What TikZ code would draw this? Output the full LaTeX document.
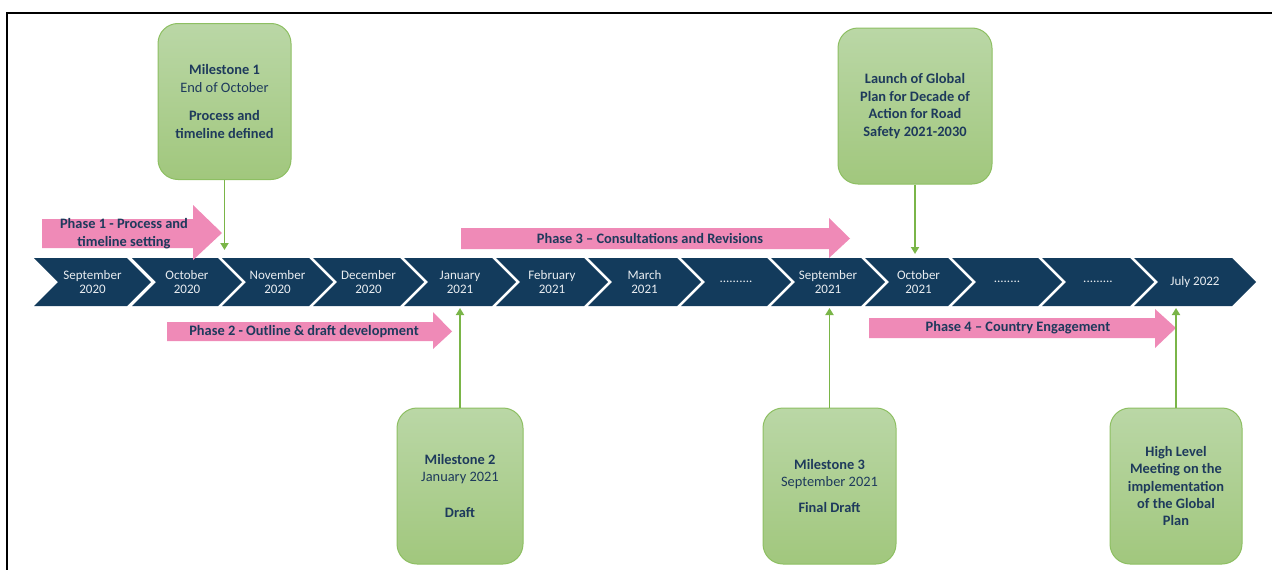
\documentclass[tikz,border=0pt]{standalone}
\usepackage{fontspec}
\setmainfont{Carlito}
\usetikzlibrary{arrows.meta}
\definecolor{band}{HTML}{133B5C}
\definecolor{monthtext}{HTML}{E9EDF1}
\definecolor{phasepink}{HTML}{EF8AB7}
\definecolor{inktext}{HTML}{1E3A5C}
\definecolor{boxtop}{HTML}{BAD7A6}
\definecolor{boxbot}{HTML}{A1C77D}
\definecolor{boxedge}{HTML}{8DBF62}
\definecolor{stemgreen}{HTML}{7AB548}
\tikzset{
    month/.style={text=monthtext, align=center, inner sep=0pt,
        font=\fontsize{13}{14}\selectfont},
    phase/.style={text=inktext, align=center, inner sep=0pt,
        font=\fontsize{14.4}{18}\selectfont\bfseries},
    milestone/.style={draw=boxedge, line width=1pt, rounded corners=20pt,
        top color=boxtop, bottom color=boxbot, text=inktext, align=center,
        inner sep=0pt, minimum height=156pt,
        font=\fontsize{14.4}{17.4}\selectfont},
    stem/.style={stemgreen, line width=1.8pt, -{Triangle[length=7pt,width=8pt]}},
}
\begin{document}
\begin{tikzpicture}[x=1pt,y=-1pt]
        \useasboundingbox (0,0) rectangle (1272,570);
        \draw[line width=1.5pt] (7,570) -- (7,13) -- (1272,13);
        % months
        \coordinate (bandtop) at (0,258);
        \coordinate (bandbot) at (0,306);
        \foreach \xl/\xr/\lbl [count=\i from 0] in {
            34/127/{September\\2020}, 132/218/{October\\2020},
            222/309/{November\\2020}, 313/400/{December\\2020},
            404/492/{January\\2021}, 496/584/{February\\2021},
            588/677/{March\\2021}, 681/767/{..........},
            771/861/{September\\2021}, 865/948/{October\\2021},
            952/1038/{........}, 1042/1130/{.........},
            1134/1232/{July 2022}} {
                \fill[band] (\xl,258) -- (\xr,258) -- (\xr+24,282) -- (\xr,306)
                    -- (\xl,306) -- (\xl+24,282) -- cycle;
                \node[month] (m\i) at ({(\xl+\xr+24)/2},282) {\lbl};
            }
        % phases
        \fill[phasepink] (42,219) -- (193,219) -- (193,205) -- (222,233)
            -- (193,260) -- (193,248) -- (42,248) -- cycle;
        \node[phase] (phase1) at (124,234) {Phase 1 - Process and\\timeline setting};
        \fill[phasepink] (167,322) -- (433,322) -- (433,312) -- (452,331.5)
            -- (433,349) -- (433,341) -- (167,341) -- cycle;
        \node[phase] (phase2) at (304,331.5) {Phase 2 - Outline \& draft development};
        \fill[phasepink] (461,228) -- (829,228) -- (829,218) -- (850,238.5)
            -- (829,258) -- (829,249) -- (461,249) -- cycle;
        \node[phase] (phase3) at (650,238.5) {Phase 3 – Consultations and Revisions};
        \fill[phasepink] (869,318) -- (1155,318) -- (1155,309) -- (1176,328)
            -- (1155,348) -- (1155,338) -- (869,338) -- cycle;
        \node[phase] (phase4) at (1018,328) {Phase 4 – Country Engagement};
        % milestones
        \node[milestone, minimum width=133pt] (ms1) at (224.5,101.5)
            {\textbf{Milestone 1}\\End of October\\[11pt]\textbf{Process and}\\\textbf{timeline defined}};
        \node[milestone, minimum width=154pt] (launch) at (915,106)
            {\textbf{Launch of Global}\\\textbf{Plan for Decade of}\\\textbf{Action for Road}\\\textbf{Safety 2021-2030}};
        \node[milestone, minimum width=126pt] (ms2) at (460,486)
            {\textbf{Milestone 2}\\January 2021\\[19pt]\textbf{Draft}};
        \node[milestone, minimum width=133pt] (ms3) at (829.5,486)
            {\textbf{Milestone 3}\\September 2021\\[9pt]\textbf{Final Draft}};
        \node[milestone, minimum width=132pt] (hlm) at (1176,486)
            {\textbf{High Level}\\\textbf{Meeting on the}\\\textbf{implementation}\\\textbf{of the Global}\\\textbf{Plan}};
        \draw[stem, shorten >=8pt] (ms1.south) -- (ms1.south |- bandtop);
        \draw[stem, shorten >=4pt] (launch.south) -- (launch.south |- bandtop);
        \draw[stem, shorten >=2pt] (ms2.north) -- (ms2.north |- bandbot);
        \draw[stem, shorten >=2pt] (ms3.north) -- (ms3.north |- bandbot);
        \draw[stem, shorten >=2pt] (hlm.north) -- (hlm.north |- bandbot);
    \end{tikzpicture}
\end{document}
